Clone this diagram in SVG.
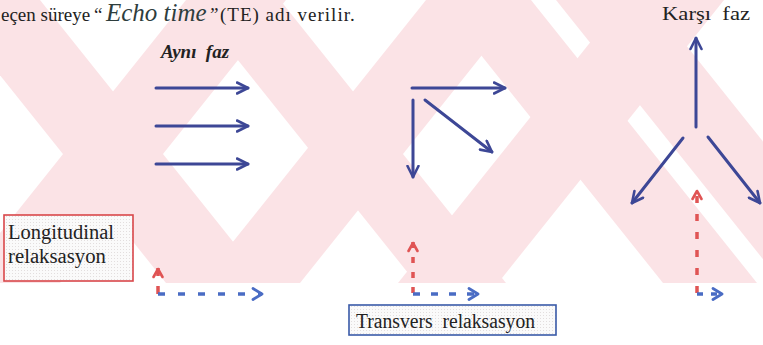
<svg xmlns="http://www.w3.org/2000/svg" width="763" height="345" viewBox="0 0 763 345">
  <defs>
    <style>
      .t { font-family: "Liberation Serif", "Times New Roman", serif; fill: #222; }
      .wm { fill: #fbe3e6; }
      .sol { fill: none; stroke: #3d4796; stroke-width: 3; stroke-linecap: round; marker-end: url(#hb); }
      .red { fill: none; stroke: #e05454; stroke-width: 3.5; marker-end: url(#hr); }
      .bld { fill: none; stroke: #4a6cc4; stroke-width: 3.5; marker-end: url(#hd); }
      .box { stroke-width: 1.6; }
    </style>
    <marker id="hb" viewBox="0 0 14 14" refX="12.5" refY="7" markerWidth="14" markerHeight="14" markerUnits="userSpaceOnUse" orient="auto">
      <path d="M1.5,1.5 L12.5,7 L1.5,12.5" fill="none" stroke="#3d4796" stroke-width="2.6" stroke-linecap="round" stroke-linejoin="round"/>
    </marker>
    <marker id="hr" viewBox="0 0 12 12" refX="11" refY="6" markerWidth="12" markerHeight="12" markerUnits="userSpaceOnUse" orient="auto">
      <path d="M2,1.5 L10,6 L2,10.5" fill="none" stroke="#e05454" stroke-width="2.6" stroke-linecap="round" stroke-linejoin="round"/>
    </marker>
    <marker id="hd" viewBox="0 0 14 14" refX="12" refY="7" markerWidth="14" markerHeight="14" markerUnits="userSpaceOnUse" orient="auto">
      <path d="M3,1.5 L12,7 L3,12.5" fill="none" stroke="#4a6cc4" stroke-width="2.8" stroke-linecap="round" stroke-linejoin="round"/>
    </marker>
    <pattern id="dots" width="3" height="3" patternUnits="userSpaceOnUse">
      <rect width="3" height="3" fill="#fafafa"/>
      <rect width="1" height="1" fill="#e2dede"/>
    </pattern>
    <clipPath id="wmclip"><rect x="0" y="0" width="763" height="283"/></clipPath>
  </defs>

  <rect width="763" height="345" fill="#ffffff"/>

  <g id="watermark" clip-path="url(#wmclip)">
    <polygon class="wm" points="-40,283 60,283 286,0 186,0"/>
    <polygon class="wm" points="200,283 300,283 526,0 426,0"/>
    <polygon class="wm" points="398,283 498,283 724,0 624,0"/>
    <polygon class="wm" points="-60,0 40,0 266,283 166,283"/>
    <polygon class="wm" points="190,0 280,0 506,283 416,283"/>
    <polygon class="wm" points="437,0 531,0 757,283 663,283"/>
    <polygon class="wm" points="556,0 650,0 876,283 782,283"/>
  </g>

  <g id="header">
    <text class="t" y="21" font-size="19"><tspan x="1">eçen süreye</tspan><tspan x="94">“</tspan><tspan x="106" font-size="25" font-style="italic" style="fill:#2e3d3d">Echo time</tspan><tspan x="208" font-style="italic">”</tspan><tspan x="220" letter-spacing="1">(TE) adı verilir.</tspan></text>
  </g>

  <g id="ayni-faz">
    <text class="t" x="161" y="58" font-size="18" font-weight="bold" font-style="italic" textLength="68" lengthAdjust="spacingAndGlyphs" xml:space="preserve">Aynı  faz</text>
  </g>

  <g id="karsi-faz">
    <text class="t" x="662" y="20" font-size="19" textLength="88" lengthAdjust="spacingAndGlyphs" xml:space="preserve">Karşı  faz</text>
  </g>

  <g id="longitudinal">
    <rect class="box" x="4" y="215" width="129" height="66" fill="url(#dots)" stroke="#d9474a"/>
    <text class="t" x="8" y="239" font-size="20" textLength="106" lengthAdjust="spacingAndGlyphs">Longitudinal</text>
    <text class="t" x="8" y="263" font-size="20" textLength="98" lengthAdjust="spacingAndGlyphs">relaksasyon</text>
  </g>

  <g id="transvers">
    <rect class="box" x="349" y="305" width="207" height="30" fill="url(#dots)" stroke="#3a5aa8"/>
    <text class="t" x="356" y="328" font-size="20" textLength="179" lengthAdjust="spacingAndGlyphs" xml:space="preserve">Transvers  relaksasyon</text>
  </g>

  <g id="connectors">
    <path class="sol" d="M156,88 H248"/>
    <path class="sol" d="M156,126 H248"/>
    <path class="sol" d="M156,164 H248"/>

    <path class="sol" d="M412,88 H505"/>
    <path class="sol" d="M413,100 V177"/>
    <path class="sol" d="M425,100 L492,152"/>

    <path class="sol" d="M696,127 V38"/>
    <path class="sol" d="M683,138 L632,203"/>
    <path class="sol" d="M708,137 L760,203"/>

    <path class="red" d="M158,294 V268" stroke-dasharray="8,10"/>
    <path class="red" d="M413,293 V242" stroke-dasharray="6,9"/>
    <path class="red" d="M697,293 V190" stroke-dasharray="7,11"/>

    <path class="bld" d="M158,294 H262" stroke-dasharray="7,13"/>
    <path class="bld" d="M413,294 H478" stroke-dasharray="7,11"/>
    <path class="bld" d="M697,294 H722" stroke-dasharray="6,8"/>
  </g>
</svg>
